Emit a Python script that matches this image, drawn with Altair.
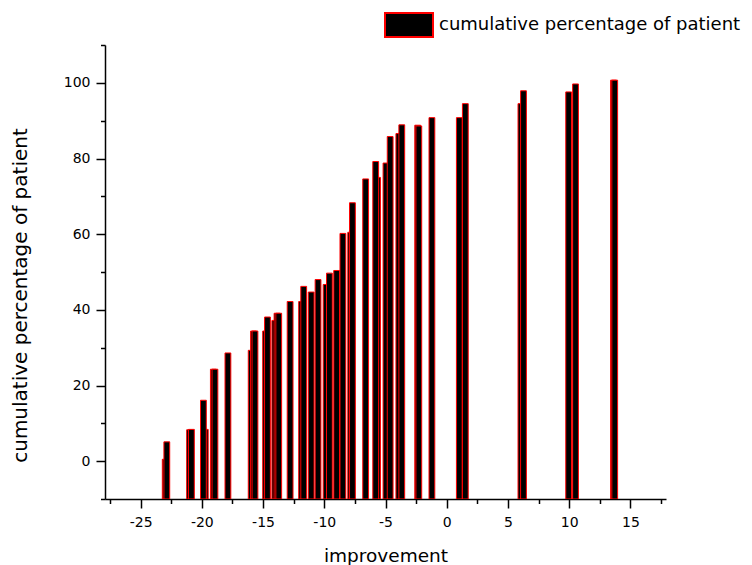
import altair as alt
import pandas as pd

# values (drawing order: bars listed later are drawn on top)
improvement = [-22.99, -22.86, -21.0, -20.85, -19.72, -19.87, -19.06, -18.93, -17.87,
               -15.97, -15.78, -15.66, -14.79, -14.64, -14.04, -13.86, -13.72, -12.79,
               -11.85, -11.68, -11.07, -10.51, -9.85, -9.58, -8.99, -8.48, -7.84, -7.70,
               -6.62, -5.65, -5.80, -4.96, -4.62, -3.91, -3.67, -2.37, -2.28, -1.21,
               1.03, 1.52, 6.06, 6.27, 9.96, 10.52, 13.62, 13.72]
cumulative_pct = [0.5, 5.1, 8.3, 8.4, 8.4, 16.1, 24.3, 24.3, 28.6,
                  29.3, 34.4, 34.4, 34.4, 38.1, 37.2, 39.1, 39.1, 42.2,
                  42.2, 46.2, 44.7, 48.0, 46.7, 49.7, 50.4, 60.2, 60.5, 68.3,
                  74.6, 75.0, 79.2, 78.8, 85.8, 86.6, 88.9, 88.8, 88.6, 90.8,
                  90.8, 94.5, 94.5, 97.9, 97.6, 99.7, 100.7, 100.7]
series_name = "cumulative percentage of patient"

x_ticks = [-27.5, -25, -22.5, -20, -17.5, -15, -12.5, -10, -7.5, -5, -2.5,
           0, 2.5, 5, 7.5, 10, 12.5, 15, 17.5]
y_ticks = [-10, 0, 10, 20, 30, 40, 50, 60, 70, 80, 90, 100, 110]

df = pd.DataFrame({
    "improvement": improvement,
    "pct": cumulative_pct,
    "series": [series_name] * len(improvement),
})

FONT = "DejaVu Sans"

x_axis = alt.Axis(
    values=x_ticks,
    title="improvement",
    labelExpr="datum.value % 5 === 0 ? '' + datum.value : ''",
    tickSize={"condition": {"test": "datum.value % 5 === 0", "value": 9}, "value": 4.5},
    tickWidth=1.5, tickColor="black",
    domainColor="black", domainWidth=1.5,
    labelFont=FONT, labelFontSize=14, labelColor="black", labelPadding=7,
    labelFlush=False, labelOverlap=False,
    titleFont=FONT, titleFontSize=18.5, titleFontWeight="normal", titleColor="black",
    titleX=280.5, titleY=62, titleAlign="center", titleBaseline="alphabetic",
    grid=False,
)

y_axis = alt.Axis(
    values=y_ticks,
    title="cumulative percentage of patient",
    labelExpr="datum.value % 20 === 0 && datum.value >= 0 ? '' + datum.value : ''",
    tickSize={"condition": {"test": "datum.value % 20 === 0", "value": 9}, "value": 4.5},
    tickWidth=1.5, tickColor="black",
    domainColor="black", domainWidth=1.5,
    labelFont=FONT, labelFontSize=14, labelColor="black", labelPadding=6,
    labelFlush=False, labelOverlap=False,
    titleFont=FONT, titleFontSize=20, titleFontWeight="normal", titleColor="black",
    titleX=-85, titleY=250, titleAngle=270, titleAlign="center", titleBaseline="middle",
    grid=False,
)

legend = alt.Legend(
    title=None,
    orient="none", legendX=279, legendY=-45,
    symbolType="M-1,-0.5H1V0.5H-1Z", symbolSize=2304,
    symbolStrokeColor="#ff0000", symbolStrokeWidth=2, symbolFillColor="#000000",
    labelFont=FONT, labelFontSize=18, labelColor="black", labelOffset=5,
    labelLimit=0, padding=0,
)

chart = alt.Chart(df).mark_bar(
    size=5.8, stroke="#ff0000", strokeWidth=1, clip=True
).encode(
    x=alt.X("improvement:Q", scale=alt.Scale(domain=[-27.5, 17.5], nice=False, zero=False), axis=x_axis),
    y=alt.Y("pct:Q", scale=alt.Scale(domain=[-10, 110], nice=False, zero=False), axis=y_axis, stack=None),
    y2=alt.datum(-10),
    color=alt.Color("series:N", scale=alt.Scale(range=["#000000"]), legend=legend),
).properties(
    width=561, height=454,
    autosize=alt.AutoSizeParams(type="none"),
    padding={"left": 97, "top": 37, "right": 78, "bottom": 66},
).configure_view(stroke=None)

chart.save("out.html", embed_options={"renderer": "svg", "actions": False})
